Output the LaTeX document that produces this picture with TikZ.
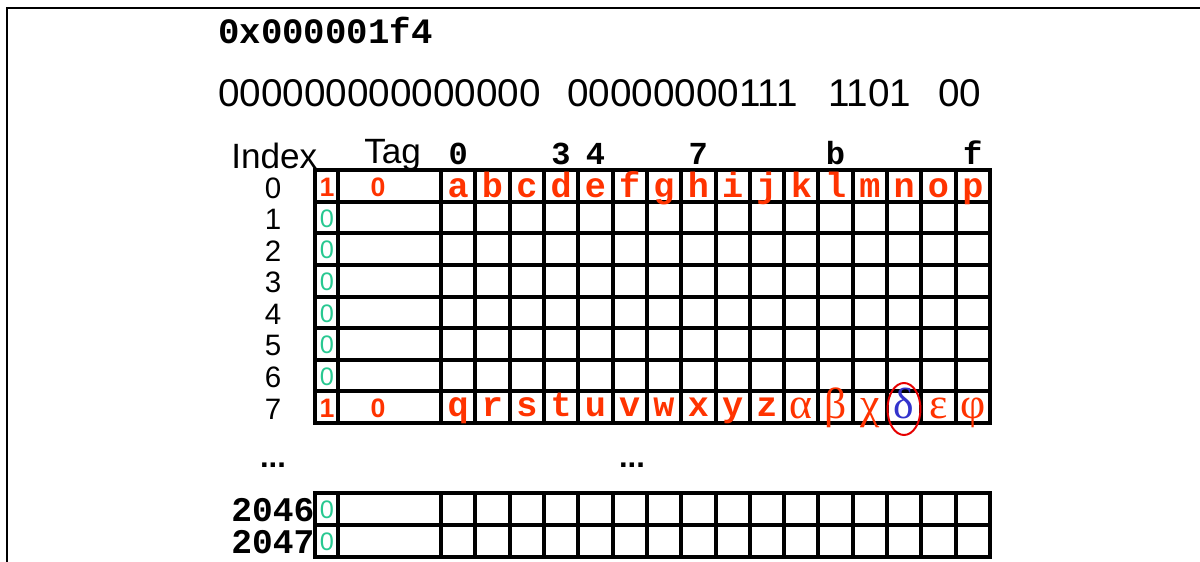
\documentclass[tikz,border=0pt]{standalone}
\usepackage{fontspec}
\setmainfont{Liberation Sans}
\newfontfamily\courfont{Liberation Mono}
\newfontfamily\symbfont{Liberation Serif}
\usepackage{tikz}

\definecolor{hitred}{RGB}{255,51,0}
\definecolor{validteal}{RGB}{40,200,145}
\definecolor{pickblue}{RGB}{51,51,204}
\definecolor{ringred}{RGB}{230,0,0}

\begin{document}
\begin{tikzpicture}[x=0.25mm,y=-0.25mm,
  gridline/.style={draw=black,line width=2.85pt,line cap=rect},
  datachar/.style={inner sep=0pt,anchor=base,text=hitred,font=\courfont\bfseries\fontsize{25}{30}\selectfont},
  greekchar/.style={inner sep=0pt,anchor=base,text=hitred,font=\symbfont\fontsize{31}{34}\selectfont},
  validone/.style={inner sep=0pt,text=hitred,font=\bfseries\fontsize{19}{22}\selectfont},
  validzero/.style={inner sep=0pt,text=validteal,font=\fontsize{18}{20}\selectfont},
  tagzero/.style={inner sep=0pt,text=hitred,font=\bfseries\fontsize{19}{22}\selectfont},
  rowlabel/.style={inner sep=0pt,font=\fontsize{21}{24}\selectfont},
  collabel/.style={inner sep=0pt,anchor=base,font=\courfont\bfseries\fontsize{22.8}{26}\selectfont},
  headword/.style={inner sep=0pt,anchor=base west,font=\fontsize{25}{30}\selectfont},
  gapdots/.style={inner sep=0pt,font=\bfseries\fontsize{22}{24}\selectfont}]
\useasboundingbox (0,0) rectangle (1200,562);
\draw[line width=2.1pt] (7,562) -- (7,8) -- (1200,8);

\node[inner sep=0pt,anchor=west,font=\courfont\bfseries\fontsize{25.4}{30}\selectfont] (addr) at (218,30) {0x000001f4};
\begin{scope}[every node/.style={inner sep=0pt,anchor=west,font=\fontsize{27.5}{32}\selectfont}]
  \node (tagbits) at (218,93) {000000000000000};
  \node (idxbits) at (567,93) {00000000111};
  \node (offbits) at (828,93) {1101};
  \node (bytebits) at (938,93) {00};
\end{scope}

\node[headword] (index) at (231,168) {Index};
\node[headword] (tag) at (364,163) {Tag};
\node[collabel] (col0) at (458.2,164) {0};
\node[collabel] (col3) at (561.1,164) {3};
\node[collabel] (col4) at (595.4,164) {4};
\node[collabel] (col7) at (698.3,164) {7};
\node[collabel] (colb) at (835.6,164) {b};
\node[collabel] (colf) at (972.8,164) {f};

\draw[gridline] (315,170) -- (990,170);
\draw[gridline] (315,201.6) -- (990,201.6);
\draw[gridline] (315,233.3) -- (990,233.3);
\draw[gridline] (315,264.9) -- (990,264.9);
\draw[gridline] (315,296.5) -- (990,296.5);
\draw[gridline] (315,328.1) -- (990,328.1);
\draw[gridline] (315,359.8) -- (990,359.8);
\draw[gridline] (315,391.4) -- (990,391.4);
\draw[gridline] (315,423) -- (990,423);
\draw[gridline] (315,493) -- (990,493);
\draw[gridline] (315,525) -- (990,525);
\draw[gridline] (315,557) -- (990,557);
\foreach \xv in {315,338,441,475.3,509.6,543.9,578.3,612.6,646.9,681.2,715.5,749.8,784.1,818.4,852.8,887.1,921.4,955.7,990}{
  \draw[gridline] (\xv,170) -- (\xv,423);
  \draw[gridline] (\xv,493) -- (\xv,557);
}

\node[rowlabel] (row0) at (273,188) {0};
\node[rowlabel] (row1) at (273,219.4) {1};
\node[rowlabel] (row2) at (273,251.1) {2};
\node[rowlabel] (row3) at (273,282.7) {3};
\node[rowlabel] (row4) at (273,314.3) {4};
\node[rowlabel] (row5) at (273,345.9) {5};
\node[rowlabel] (row6) at (273,377.6) {6};
\node[rowlabel] (row7) at (273,409.2) {7};
\node[gapdots] (rowdots) at (273,465) {...};
\node[gapdots] (datadots) at (632,465) {...};
\node[inner sep=0pt,anchor=west,font=\courfont\bfseries\fontsize{24.6}{28}\selectfont] (row2046) at (231,510) {2046};
\node[inner sep=0pt,anchor=west,font=\courfont\bfseries\fontsize{24.6}{28}\selectfont] (row2047) at (231,542) {2047};

\node[validone] (v0) at (327,187) {1};
\node[validzero] (v1) at (327,218.4) {0};
\node[validzero] (v2) at (327,250.1) {0};
\node[validzero] (v3) at (327,281.7) {0};
\node[validzero] (v4) at (327,313.3) {0};
\node[validzero] (v5) at (327,344.9) {0};
\node[validzero] (v6) at (327,376.6) {0};
\node[validone] (v7) at (327,408.2) {1};
\node[validzero] (v2046) at (327,510) {0};
\node[validzero] (v2047) at (327,542) {0};
\node[tagzero] (t0) at (378,187) {0};
\node[tagzero] (t7) at (378,408.2) {0};

\node[datachar] (a) at (458.2,197) {a};
\node[datachar] (b) at (492.5,197) {b};
\node[datachar] (c) at (526.8,197) {c};
\node[datachar] (d) at (561.1,197) {d};
\node[datachar] (e) at (595.4,197) {e};
\node[datachar] (f) at (629.7,197) {f};
\node[datachar] (g) at (664.0,197) {g};
\node[datachar] (h) at (698.3,197) {h};
\node[datachar] (i) at (732.7,197) {i};
\node[datachar] (j) at (767.0,197) {j};
\node[datachar] (k) at (801.3,197) {k};
\node[datachar] (l) at (835.6,197) {l};
\node[datachar] (m) at (869.9,197) {m};
\node[datachar] (n) at (904.2,197) {n};
\node[datachar] (o) at (938.5,197) {o};
\node[datachar] (p) at (972.8,197) {p};

\node[datachar] (q) at (458.2,416) {q};
\node[datachar] (r) at (492.5,416) {r};
\node[datachar] (s) at (526.8,416) {s};
\node[datachar] (t) at (561.1,416) {t};
\node[datachar] (u) at (595.4,416) {u};
\node[datachar] (v) at (629.7,416) {v};
\node[datachar] (w) at (664.0,416) {w};
\node[datachar] (x) at (698.3,416) {x};
\node[datachar] (y) at (732.7,416) {y};
\node[datachar] (z) at (767.0,416) {z};
\node[greekchar] (alpha) at (801.3,418) {α};
\node[greekchar] (beta) at (835.6,418) {β};
\node[greekchar] (chi) at (869.9,418) {χ};
\node[greekchar,text=pickblue] (delta) at (904.2,418) {δ};
\node[greekchar] (epsilon) at (938.5,418) {ε};
\node[greekchar] (phi) at (972.8,418) {φ};
\draw[ringred,line width=1.4pt] (904,409) ellipse [x radius=16.5,y radius=26];
\end{tikzpicture}
\end{document}
